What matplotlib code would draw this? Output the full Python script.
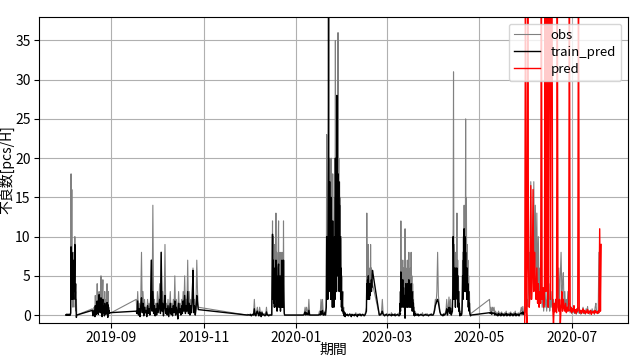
import pandas as pd
import matplotlib
matplotlib.use('Agg')
import matplotlib.pyplot as plt
import matplotlib.dates as mdates

plt.rcParams['font.family'] = ['Noto Sans CJK JP', 'DejaVu Sans']
plt.rcParams['font.size'] = 10

# ---- data: (start, step in hours) + values ----
# obs = observed defects, tp = train_pred, pred = forecast
aug1_start, aug1_step = '2019-08-02 00:00', 6
obs_aug1 = [0, 0.1, 0, 0, 0.1, 0, 0, 0.1, 0, 0, 0.1, 0,
            0, 0.2, 18, 3, 16, 2, 6, 1, 5, 8, 2, 4, 10, 1, 3, 0.5, 2, 0]
tp_aug1 = [0, 0, 0.1, 0, 0, 0.1, 0, 0, 0.1, 0, 0, 0.1,
           0, 0.3, 8.7, 2, 8, 3, 6, 2, 6, 7, 3, 5, 9, 2, 4, 1, -0.3, 0]

aug2_start, aug2_step = '2019-08-19 12:00', 6
obs_aug2 = [0.8, 0.3, 0, 0.5, 0.2, 1, 0.3, 0, 2.5, 0.5, 1, 0.2, 0.8, 4, 0.5, 2, 0.3, 1.5,
            3, 0.5, 2, 1, 0.5, 5, 1, 2, 0.3, 3, 4.5, 0.5, 2, 1, 0.2, 3, 0.5, 1, 0.3, 2,
            0.5, 4, 1, 0.3, 3, 0.5, 1, 0.2, 0.2]
tp_aug2 = [0.6, 0.2, -0.1, 0.3, 0.1, 0.6, 0.2, -0.2, 1.2, 0.3, 0.6, 0.1, 0.5, 1.8, 0.3, 1.2,
           0.1, 0.8, 2.6, 0.4, 1.5, 0.7, 0.3, 2.2, 0.6, 1.4, -0.2, 1.6, 2, 0.3, 1.1, 0.5,
           -0.1, 1.5, 0.3, 0.6, 0.1, 1.2, 0.2, 1.6, 0.5, -0.3, 1.3, 0.3, 0.6, 0.2, 0.3]

sep_start, sep_step = '2019-09-17 12:00', 12
obs_sep = [2, 0.5, 3, 0.3, 1.5, 0.2, 2, 8, 0.5, 3, 0.3, 2, 0.5, 1, 0.2, 2, 0.4, 1.5, 0.3, 2,
           7, 1, 14, 0.5, 2, 0.3, 1.5, 0.2, 3, 0.5, 2, 4, 0.5, 8, 1, 3, 0.3, 2, 9, 0.5,
           1.5, 0.3, 2, 0.2, 1, 3, 0.3, 1.5, 0.2, 2, 0.5, 5, 0.3, 2, 1, 0.2, 3, 0.5, 1.5, 0.3,
           2, 0.5, 3, 1, 5, 0.5, 2, 1, 7, 0.5, 3, 0.3, 2, 0.5, 3, 6, 0.5, 2, 0.3, 1.5,
           7, 3, 1.0]
tp_sep = [0.5, 0.2, 1.8, 0, 0.8, -0.2, 1.2, 2.2, 0.3, 1.5, -0.1, 1, 0.3, 0.6, -0.2, 1.2, 0.2,
          0.8, 0, 1.5, 7, 0.5, 3, 0.2, 1.2, -0.1, 0.8, 0, 1.5, 0.3, 1.2, 2, 0.2, 8, 0.5, 1.5,
          -0.1, 1, 2.5, 0.2, 0.8, 0, 1.2, -0.2, 0.6, 1.5, 0.1, 0.8, -0.1, 1.2, 0.3, 1.8, 0, 1,
          0.5, -0.5, 1.5, 0.3, 0.8, 0, 1.2, 0.2, 1.8, 0.5, 2.5, 0.2, 1.2, 0.5, 3, 0.2, 1.5, 0,
          1.2, 0.3, 1.8, 5.7, 0.3, 1.2, 0, 0.8, 2.5, 1.5, 0.7]

nov_start, nov_step = '2019-11-29 12:00', 12
obs_nov = [0, 0.1, 0, 0, 0.1, 0, 0, 0.1, 0, 0.2, 2, 0.1, 0, 0.5, 1, 0.2, 0, 1,
           0.3, 0, 0.5, 0.1, 0, 0.2, 0, 0.1, 1, 0, 0.1, 0, 0, 0.1, 0, 0]
tp_nov = [0, 0, 0.05, 0, 0, 0.1, -0.1, 0, 0.1, 0, 0.8, 0, -0.1, 0.3, 0.5, 0.1, -0.1, 0.4,
          0.2, -0.2, 0.3, 0, 0.1, 0, -0.1, 0, 0.4, 0, 0, -0.1, 0, 0, 0, 0]

dec_start, dec_step = '2019-12-16 12:00', 6
obs_dec = [12, 3, 10, 2, 7, 1, 9, 3, 6, 13, 2, 8, 1, 6, 3, 9, 12, 1, 5, 2, 8, 1, 6, 2,
           7, 8, 1, 4, 2, 12, 3, 0.5, 0]
tp_dec = [10.3, 2, 7, 1.5, 5, 1, 6, 2, 4, 7, 1, 5, 0.5, 4, 2, 6, 6.5, 1, 3, 1, 5, 0.5, 4, 1,
          5, 7, 1, 3, 1, 7, 2, 0.2, 0]

jan1_start, jan1_step = '2019-12-25 00:00', 12
obs_jan1 = [0] * 24 + [0.1, 0.3, 1, 0.2, 1, 0.5, 0.2, 2, 0.1, 0, 0, 0, 0, 0, 0, 0, 0,
                       0, 0, 0, 0.1, 0.5, 0.2, 2, 0.5, 2, 0.3, 0.1, 0.5, 0.2]
tp_jan1 = [0] * 24 + [0, 0.1, 0.4, 0, 0.3, 0.1, 0, 0.6, 0, 0, 0, 0, 0, 0, 0, 0, 0,
                      0, 0, 0, 0, 0.1, 0, 0.5, 0.1, 0.6, 0, 0, 0.3, 0]

jan2_start, jan2_step = '2020-01-21 00:00', 6
obs_jan2 = [2, 23, 5, 12, 3, 15, 20, 4, 10, 20, 6, 14, 3, 20, 8, 12, 2, 18, 5, 10, 2, 8,
            15, 3, 35, 10, 20, 5, 25, 8, 18, 36, 10, 20, 5, 17, 8, 15, 3, 10, 2, 5, 1, 2,
            3, 0.5, 1, 0.2, 0, 0.3, 0, 0.2, 0]
tp_jan2 = [1, 10, 3, 8, 2, 12, 40, 3, 8, 17, 4, 10, 2, 15, 5, 9, 1, 12, 3, 8, 1, 6, 10, 2,
           20, 6, 13, 3, 28, 5, 12, 18, 6, 17, 3, 14, 5, 10, 2, 6, 1, 3, 0.5, 1, 0.8, 0.2,
           0.5, -0.1, 0.1, 0.3, -0.2, 0.1, 0]

feb1_start, feb1_step = '2020-02-03 12:00', 12
obs_feb1 = [0, 0.1, 0, 0, 0.2, 0, 0.1, 0, 0, 0.1, 0, 0, 0.3, 0, 0.1, 0, 0, 0.2, 0, 0,
            0.1, 0, 0, 0.1, 0, 0.5]
tp_feb1 = [0, 0.1, -0.1, 0, 0.1, 0, -0.2, 0.1, 0, 0, -0.1, 0.1, 0, 0, -0.2, 0.1, 0, 0,
           0.1, -0.1, 0, 0.1, 0, -0.1, 0, 0.2]

feb2_start, feb2_step = '2020-02-16 12:00', 6
obs_feb2 = [1, 13, 3, 6, 2, 9, 4, 6, 2, 5, 3, 9, 4, 6, 3, 5, 4]
tp_feb2 = [0.5, 4, 2, 4.5, 2, 5, 3, 4, 2, 3.5, 2.5, 4, 3, 4.5, 3.5, 5, 5.7]

feb3_start, feb3_step = '2020-02-25 00:00', 12
obs_feb3 = [0, 0.2, 0, 0.5, 2, 0.3, 0, 0.1, 0, 0, 0.2, 0, 0, 0.1, 0, 0, 0.3, 0, 0.1, 0,
            0, 0.2, 0, 0, 0.1, 0, 0.3, 0, 0.5]
tp_feb3 = [0, 0, 0.1, 0.2, 0.5, 0.1, 0, -0.1, 0, 0.1, 0, -0.1, 0, 0.1, 0, 0, -0.1, 0.1,
           0, 0, 0.1, -0.1, 0, 0, 0.1, 0, -0.1, 0, 0.2]

mar_start, mar_step = '2020-03-09 12:00', 6
obs_mar = [0.5, 3, 1, 12, 4, 7, 2, 5, 7, 3, 6, 2, 4, 1, 11, 3, 6, 2, 5, 3, 7, 2, 4, 3, 8,
           2, 5, 3, 6, 2, 8, 3, 5, 1, 4, 2, 3, 0.5, 1, 0.2, 0.5, 0, 0.3]
tp_mar = [0.2, 1.5, 0.5, 5.5, 2, 4, 1, 3, 4.5, 1.5, 3.5, 1, 2.5, 0.5, -0.4, 2, 4, 1, 3, 1.5,
          4, 1, 2.5, 1.5, 4.5, 1, 3, 1.5, 3.5, 1, 4, 1.5, 3, 0.5, 2, 1, 1.5, 0, 0.5, -0.1,
          0.2, 0, 0.1]

apr1_start, apr1_step = '2020-03-20 12:00', 12
obs_apr1 = [0.1, 0, 0.2, 0, 0, 0.1, 0, 0, 0.3, 0, 0, 0.1, 0, 0, 0.2, 0, 0, 0.1, 0, 0, 0.2,
            0, 0, 0.3, 1, 2, 1.5, 3, 8, 2.5, 1.5, 0.5, 0.2, 0, 0.1, 0, 0.2, 0, 0.3, 0.5,
            2, 0.3, 1, 2.3, 0.5, 2, 0.3, 0.5]
tp_apr1 = [0, 0, 0.1, -0.1, 0, 0, 0.1, 0, 0, -0.1, 0, 0, 0.1, 0, 0, 0, -0.1, 0, 0, 0.1, 0,
           0, 0, 0.2, 0.6, 1.2, 1.5, 1.8, 2, 1.6, 1, 0.4, 0.1, 0, 0, -0.1, 0.1, 0, 0.1, 0.3,
           0.8, 0, 0.6, 1, 0.2, 0.9, 0, 0.3]

apr2_start, apr2_step = '2020-04-13 06:00', 6
obs_apr2 = [1, 6, 11, 31, 4, 9, 3, 7, 2, 8, 4, 6, 13, 3, 7, 2, 5, 1, 3, 0.5, 0.2, 0.5, 0.1,
            0.3, 0.2, 0.5, 3, 8, 4, 10, 5, 14, 6, 11, 4, 25, 6, 15, 3, 9, 4, 7, 2, 5, 1, 3,
            0.5, 0.3, 0, 0.2]
tp_apr2 = [0.5, 3, 10, 8, 2, 6, 2, 5, 1, 6, 3, 4, 6, 2, 5, 1, 3, 0.5, 1.5, 0.2, -0.1, 0.2,
           0, 0.1, 0, 0.2, 1.5, 5, 2, 7, 3, 11, 4, 10, 3, 8, 3, 6, 2, 6, 2, 4, 1, 3, 0.5,
           1.5, 0.2, 0, -0.1, 0]

may_start, may_step = '2020-05-07 18:00', 12
obs_may = [2, 0.5, 1, 0.3, 1, 0.5, 1, 0.2, 0.5, 0.1, 0.3, 0, 0.5, 0.1, 0.3, 0, 0.4, 0.1,
           0.2, 0, 0.3, 0.1, 0.5, 0, 0.2, 0.1, 0.3, 0, 0.4, 0.1, 0.2, 0, 0.3, 0.1, 0.5, 0,
           0.2, 0.1, 0.3, 0, 0.2, 0.5, 1, 0.3, 1.1, 0.2, 0.5]
tp_may = [0.3, 0.2, 0.4, 0.1, 0.3, 0.2, 0.3, 0, 0.2, 0, 0.1, -0.1, 0.2, 0, 0.1, -0.1, 0.2,
          0, 0.1, -0.1, 0.1, 0, 0.2, -0.1, 0.1, 0, 0.1, -0.1, 0.2, 0, 0.1, -0.1, 0.1, 0,
          0.2, -0.1, 0.1, 0, 0.1, -0.1, 0.1, 0.2, 0.3, 0.1, 0.4, 0.1, 0.3]

jun_start, jun_step = '2020-05-31 00:00', 12
obs_jun = [0.5, 1, 0.3, 2, 1.1, 3, 8, 2, 17, 4, 10, 6, 17, 5, 14, 4, 13, 3, 10, 2, 6, 2, 4,
           1, 3, 0.5, 2, 1, 3, 0.5, 2, 1, 4, 0.5, 2, 1, 3, 0.5, 2, 0.3, 1, 0.5, 2, 4, 1, 6,
           2, 5, 8, 3, 4, 5.4, 1, 3, 0.5, 2, 1, 3, 0.5, 1.5, 0.3, 1, 0.2, 0.8, 0.3, 1, 0.2,
           0.5, 0.1, 0.8, 0.3, 1, 0.2, 0.5, 0.1, 0.6, 0.3, 1, 0.2, 0.5, 0.1, 0.8, 0.3, 1.1,
           0.2, 0.5, 0.1, 0.6, 0.2, 0.8, 0.3, 0.5, 0.1, 1, 1.5, 0.3, 0.5, 0.2, 8, 0.5, 7]
pred_jun = [-1.2, 45, 0.5, -1.2, 45, 6, 1, 3, 16.5, 2, 5, 16, 3, 8, 4, 2, 6, 1.5, 4, 1, 3,
            1.5, 45, 2, 3.5, 1, 2, 45, 3, 45, 45, 1, 45, 45, 2, 45, 45, 1, -1.2, 1.5, 0.5,
            2, 0.3, 45, 1, 0.5, 2, -1.2, 1, 3, 0.5, 2, 1, 0.5, 1.5, 0.3, 1, 0.5, 1.5, 45,
            0.5, 1, 0.3, 0.8, 0.5, 1.2, 0.3, 0.7, 0.2, 0.8, 0.5, 45, 0.8, 0.3, 0.6, 0.2, 0.5,
            0.8, 0.3, 0.6, 0.2, 0.5, 0.3, 0.7, 0.2, 0.5, 0.3, 0.6, 0.1, 0.4, 0.3, 0.5, 0.2,
            0.6, 0.3, 0.4, 0.2, 0.5, 0.3, 11, 0.5, 9]


def to_series(start, step, vals):
    idx = pd.date_range(start, periods=len(vals), freq=f'{step}h')
    return pd.Series(vals, index=idx)


train_segs = [(aug1_start, aug1_step, obs_aug1, tp_aug1),
              (aug2_start, aug2_step, obs_aug2, tp_aug2),
              (sep_start, sep_step, obs_sep, tp_sep),
              (nov_start, nov_step, obs_nov, tp_nov),
              (dec_start, dec_step, obs_dec, tp_dec),
              (jan1_start, jan1_step, obs_jan1, tp_jan1),
              (jan2_start, jan2_step, obs_jan2, tp_jan2),
              (feb1_start, feb1_step, obs_feb1, tp_feb1),
              (feb2_start, feb2_step, obs_feb2, tp_feb2),
              (feb3_start, feb3_step, obs_feb3, tp_feb3),
              (mar_start, mar_step, obs_mar, tp_mar),
              (apr1_start, apr1_step, obs_apr1, tp_apr1),
              (apr2_start, apr2_step, obs_apr2, tp_apr2),
              (may_start, may_step, obs_may, tp_may)]

obs = pd.concat([to_series(s, h, o) for s, h, o, t in train_segs]
                + [to_series(jun_start, jun_step, obs_jun)])
train_pred = pd.concat([to_series(s, h, t) for s, h, o, t in train_segs])
pred = to_series(jun_start, jun_step, pred_jun)

fig = plt.figure(figsize=(6.34, 3.6), dpi=100)
ax = fig.add_axes([0.0615, 0.103, 0.929, 0.85])
ax.plot(obs.index, obs.values, color='gray', lw=0.8, label='obs')
ax.plot(train_pred.index, train_pred.values, color='black', lw=1.0, label='train_pred')
ax.plot(pred.index, pred.values, color='red', lw=1.0, label='pred')

ax.set_ylim(-1, 38)
ax.set_yticks(range(0, 36, 5))
ax.xaxis.set_major_locator(mdates.MonthLocator(bymonth=[1, 3, 5, 7, 9, 11]))
ax.xaxis.set_major_formatter(mdates.DateFormatter('%Y-%m'))
ax.tick_params(labelsize=10, pad=2.5)
ax.grid(True)
ax.set_xlabel('期間', fontsize=10)
ax.set_ylabel('不良数[pcs/H]', fontsize=10)
ax.xaxis.set_label_coords(0.5, -0.065)
ax.yaxis.set_label_coords(-0.042, 0.5)
ax.legend(loc='upper right', fontsize=9.5, labelspacing=0.3)

fig.savefig('out.png', dpi=100)
